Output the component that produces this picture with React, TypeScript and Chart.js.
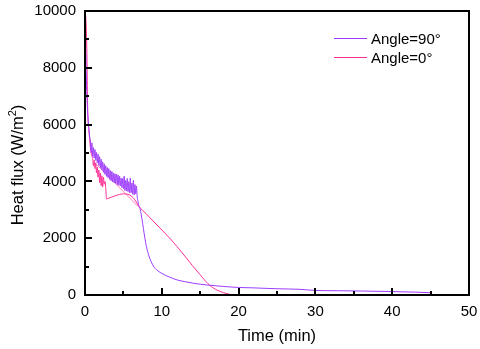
import React, { useEffect, useRef } from "react";
import { Chart, registerables } from "chart.js";

Chart.register(...registerables);

const FONT = "'Liberation Sans', Arial, Helvetica, sans-serif";

const seriesLabels = ["Angle=90°", "Angle=0°"];
const seriesColors = ["#9d3cff", "#ff2f95"];
const xTitle = "Time (min)";
const yTitleMain = "Heat flux (W/m";
const yTitleSup = "2";
const yTitleEnd = ")";

const xMin = 0, xMax = 50, xMajor = 10, xMinor = 5;
const yMin = 0, yMax = 10000, yMajor = 2000, yMinor = 1000;

// Angle = 90°
const angle90Time = [
  0.05, 0.1, 0.15, 0.25, 0.35, 0.5, 0.6,
  0.7, 0.8, 0.9, 1.0, 1.1, 1.2, 1.3, 1.4, 1.5, 1.6, 1.7, 1.8, 1.9, 2.0,
  2.1, 2.2, 2.3, 2.4, 2.5, 2.6, 2.7, 2.8, 2.9, 3.0,
  3.1, 3.2, 3.3, 3.4, 3.5, 3.6, 3.7, 3.8, 3.9, 4.0,
  4.1, 4.2, 4.3, 4.4, 4.5, 4.6, 4.7, 4.8, 4.9, 5.0,
  5.1, 5.2, 5.3, 5.4, 5.5, 5.6, 5.7, 5.8, 5.9, 6.0,
  6.1, 6.2, 6.3, 6.4, 6.5, 6.6, 6.7, 6.8,
  6.9, 7.0, 7.2, 7.4, 7.6, 7.8, 8.0, 8.3, 8.6, 9.0, 9.5, 10, 11, 12, 13, 14, 15, 16, 18, 20,
  22, 25, 28, 30, 33, 36, 40, 43, 45,
];
const angle90Flux = [
  8900, 8500, 7900, 7000, 6400, 5900, 5600,
  5420, 5010, 5360, 4880, 5190, 4820, 5120, 4740, 5020, 4650, 4960, 4560, 4870, 4480,
  4780, 4400, 4690, 4320, 4620, 4250, 4550, 4180, 4490, 4130,
  4450, 4070, 4380, 4020, 4350, 3980, 4300, 3950, 4270, 3930,
  4260, 3890, 4230, 3860, 4190, 3840, 4120, 3780, 4100, 3740,
  4190, 3680, 4030, 3660, 4100, 3640, 3990, 3600, 4120, 3600,
  3940, 3550, 4040, 3520, 3890, 3560, 3840, 3450,
  3300, 3150, 3000, 2700, 2350, 2000, 1700, 1400, 1180, 980, 850, 760, 630, 530, 470, 420, 380, 350, 300, 265,
  250, 220, 200, 160, 150, 140, 120, 100, 80,
];

// Angle = 0°
const angle0Time = [
  0.05, 0.15, 0.25, 0.32, 0.4, 0.5, 0.6, 0.7, 0.8, 0.9,
  1.0, 1.1, 1.2, 1.3, 1.4, 1.5, 1.6, 1.7, 1.8, 1.9, 2.0,
  2.1, 2.2, 2.3, 2.4, 2.5, 2.6, 2.7, 2.8,
  3.0, 3.5, 4.0, 4.5, 5.0, 5.5, 6.0, 6.5, 7.0, 7.5, 8.0, 9.0,
  10, 11, 12, 13, 14, 15, 16, 17, 18, 19, 19.6,
];
const angle0Flux = [
  10000, 9500, 8500, 7000, 6100, 5800, 5500, 5200, 5000, 4900,
  4800, 4550, 4750, 4450, 4650, 4300, 4500, 4150, 4400, 3950, 4300,
  3850, 4200, 3800, 4150, 3900, 4000, 3750, 3380,
  3400, 3450, 3500, 3540, 3560, 3550, 3490, 3350, 3130, 2980, 2850, 2570,
  2290, 2010, 1700, 1370, 1030, 710, 400, 200, 85, 15, 0,
];
// faint straight trace of the Angle = 0° record across the noisy part
const angle0TraceTime = [1.3, 6.9];
const angle0TraceFlux = [4650, 3120];

const toPoints = (xs: number[], ys: number[]) => xs.map((x, i) => ({ x, y: ys[i] }));

const frameAndLegend = {
  id: "frameAndLegend",
  afterDatasetsDraw(chart: any) {
    const { ctx, chartArea, scales } = chart;
    const { left, top, right, bottom } = chartArea;
    const xs = scales.x;
    const ys = scales.y;
    ctx.save();
    ctx.strokeStyle = "#000";
    ctx.lineWidth = 2;
    ctx.strokeRect(left, top, right - left, bottom - top);
    ctx.beginPath();
    for (let v = xMin + xMinor; v < xMax; v += xMinor) {
      const px = Math.round(xs.getPixelForValue(v));
      const len = v % xMajor === 0 ? 7 : 4;
      ctx.moveTo(px, bottom);
      ctx.lineTo(px, bottom - len);
    }
    for (let v = yMin + yMinor; v < yMax; v += yMinor) {
      const py = Math.round(ys.getPixelForValue(v));
      const len = v % yMajor === 0 ? 7 : 4;
      ctx.moveTo(left, py);
      ctx.lineTo(left + len, py);
    }
    ctx.stroke();

    // legend
    ctx.font = `15px ${FONT}`;
    ctx.textBaseline = "middle";
    ctx.textAlign = "left";
    ctx.fillStyle = "#000";
    const items = chart.data.datasets.filter((d: any) => d.label);
    items.forEach((d: any, i: number) => {
      const y = top + 27.5 + i * 19;
      ctx.strokeStyle = d.borderColor;
      ctx.lineWidth = 1.2;
      ctx.beginPath();
      ctx.moveTo(right - 135, y);
      ctx.lineTo(right - 102, y);
      ctx.stroke();
      ctx.fillText(d.label, right - 98, y + 1);
    });

    // y axis title with superscript
    const big = `16.5px ${FONT}`;
    const small = `11px ${FONT}`;
    ctx.font = big;
    const w1 = ctx.measureText(yTitleMain).width;
    const w3 = ctx.measureText(yTitleEnd).width;
    ctx.font = small;
    const w2 = ctx.measureText(yTitleSup).width;
    const total = w1 + w2 + w3;
    ctx.translate(23, 165);
    ctx.rotate(-Math.PI / 2);
    ctx.textBaseline = "alphabetic";
    ctx.fillStyle = "#000";
    let cx = -total / 2;
    ctx.font = big;
    ctx.fillText(yTitleMain, cx, 0);
    cx += w1;
    ctx.font = small;
    ctx.fillText(yTitleSup, cx, -7);
    cx += w2;
    ctx.font = big;
    ctx.fillText(yTitleEnd, cx, 0);
    ctx.restore();
  },
};

export default function App() {
  const ref = useRef<HTMLCanvasElement>(null);
  useEffect(() => {
    if (!ref.current) return;
    const chart = new Chart(ref.current, {
      type: "scatter",
      data: {
        datasets: [
          {
            label: seriesLabels[0],
            data: toPoints(angle90Time, angle90Flux),
            borderColor: seriesColors[0],
            backgroundColor: seriesColors[0],
            showLine: true,
            pointRadius: 0,
            borderWidth: 1,
            cubicInterpolationMode: "monotone",
          },
          {
            label: seriesLabels[1],
            data: toPoints(angle0Time, angle0Flux),
            borderColor: seriesColors[1],
            backgroundColor: seriesColors[1],
            showLine: true,
            pointRadius: 0,
            borderWidth: 1,
            cubicInterpolationMode: "monotone",
          },
          {
            label: "",
            data: toPoints(angle0TraceTime, angle0TraceFlux),
            borderColor: "#ff7fbf",
            backgroundColor: "#ff7fbf",
            showLine: true,
            pointRadius: 0,
            borderWidth: 1,
          },
        ],
      },
      options: {
        responsive: false,
        animation: false,
        events: [],
        layout: { padding: { top: 11, right: 11, left: 0, bottom: 0 } },
        plugins: {
          legend: { display: false },
          tooltip: { enabled: false },
        },
        scales: {
          x: {
            type: "linear",
            min: xMin,
            max: xMax,
            afterFit: (s: any) => { s.height = 54; s.paddingLeft = 0; s.paddingRight = 0; },
            grid: { display: false, drawTicks: false },
            border: { display: false },
            ticks: { stepSize: xMajor, padding: 8, color: "#000", font: { family: FONT, size: 15 }, maxRotation: 0, callback: (v: any) => String(v) },
            title: { display: true, text: xTitle, color: "#000", font: { family: FONT, size: 16.5 }, padding: { top: 0, bottom: 3 } },
          },
          y: {
            type: "linear",
            min: yMin,
            max: yMax,
            afterFit: (s: any) => { s.width = 85; s.paddingTop = 0; s.paddingBottom = 0; },
            grid: { display: false, drawTicks: false },
            border: { display: false },
            ticks: { stepSize: yMajor, padding: 9, color: "#000", font: { family: FONT, size: 15 }, callback: (v: any) => String(v) },
            title: { display: false },
          },
        },
      },
      plugins: [frameAndLegend],
    });
    return () => chart.destroy();
  }, []);
  return (
    <div style={{ position: "absolute", left: 0, top: 0, width: 480, height: 349, background: "#fff" }}>
      <canvas ref={ref} width={480} height={349} />
    </div>
  );
}
